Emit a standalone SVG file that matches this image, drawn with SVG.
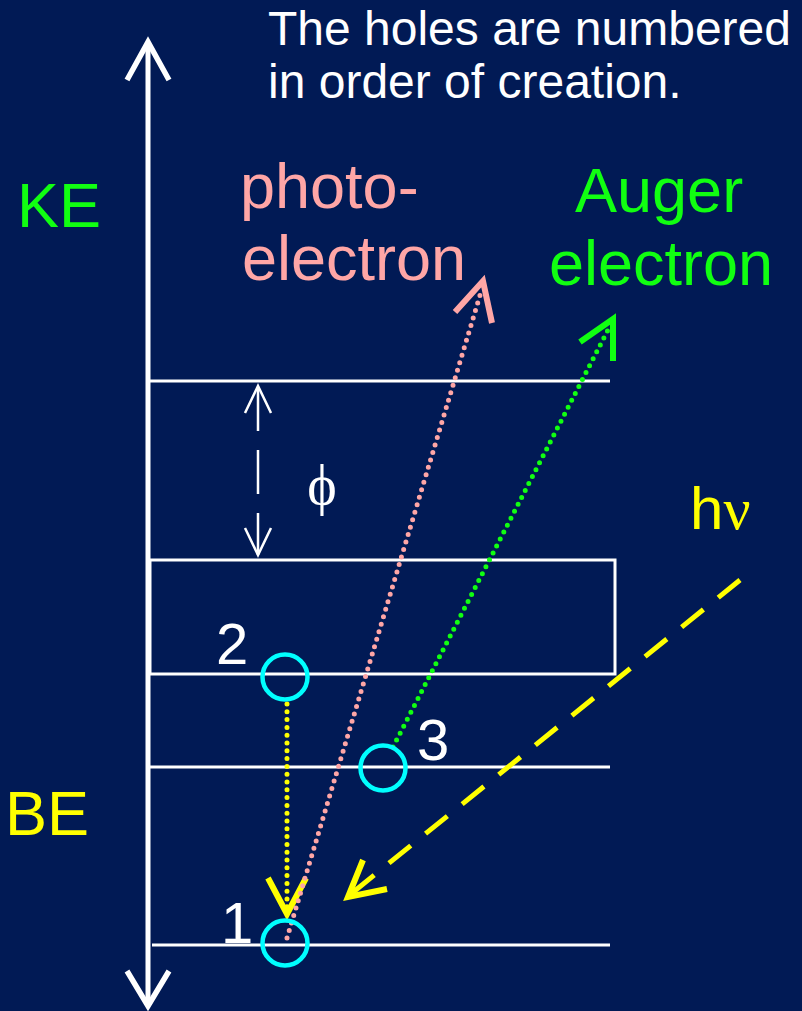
<svg xmlns="http://www.w3.org/2000/svg" width="802" height="1011" viewBox="0 0 802 1011">
  <style>
    .lvl { stroke: #ffffff; stroke-width: 3; fill: none; }
    .hole { stroke: #00ffff; stroke-width: 4.5; fill: none; }
    .num { font-family: "Liberation Sans", Arial, sans-serif; font-size: 58px; fill: #ffffff; }
    .big { font-family: "Liberation Sans", Arial, sans-serif; font-size: 63px; }
    .dots { fill: none; stroke-width: 5; stroke-linecap: round; stroke-dasharray: 0 7.8; }
    .head { fill: none; stroke-width: 6; stroke-linejoin: miter; stroke-linecap: butt; }
  </style>
  <rect x="0" y="0" width="802" height="1011" fill="#011A55"/>

  <g id="caption">
    <text x="268" y="45" font-family="Liberation Sans, Arial, sans-serif" font-size="48" fill="#ffffff">The holes are numbered</text>
    <text x="268" y="98" font-family="Liberation Sans, Arial, sans-serif" font-size="48" fill="#ffffff">in order of creation.</text>
  </g>

  <g id="axis">
    <line x1="148" y1="42" x2="148" y2="1005" stroke="#ffffff" stroke-width="5"/>
    <path d="M127,80 L148,42 L169,80" fill="none" stroke="#ffffff" stroke-width="5.5"/>
    <path d="M127,971 L148,1006 L169,971" fill="none" stroke="#ffffff" stroke-width="5.5"/>
    <text x="17" y="227" class="big" fill="#11FF11">KE</text>
    <text x="5" y="835" class="big" fill="#FFFF00" font-size="60">BE</text>
  </g>

  <g id="levels">
    <line class="lvl" x1="150" y1="381" x2="610" y2="381"/>
    <rect class="lvl" x="150" y="560" width="465" height="114"/>
    <line class="lvl" x1="150" y1="767" x2="610" y2="767"/>
    <line class="lvl" x1="152" y1="945" x2="610" y2="945"/>
  </g>

  <g id="work-function">
    <line x1="258" y1="387" x2="258" y2="555" stroke="#ffffff" stroke-width="2.5" stroke-dasharray="44 19"/>
    <path d="M245,413 L258,386 L271,413" fill="none" stroke="#ffffff" stroke-width="2.5"/>
    <path d="M245,528 L258,555 L271,528" fill="none" stroke="#ffffff" stroke-width="2.5"/>
    <text x="322" y="504" text-anchor="middle" font-family="Liberation Serif, Times New Roman, serif" font-size="56" fill="#ffffff">ϕ</text>
  </g>

  <g id="connectors">
    <line class="dots" x1="287" y1="704" x2="287" y2="912" stroke="#FFFF00"/>
    <path class="head" d="M268,878 L287,914 L306,878" stroke="#FFFF00"/>
    <line class="dots" x1="287" y1="938" x2="481" y2="292" stroke="#FFA6A6"/>
    <path class="head" d="M455,312 L483,281 L492,323" stroke="#FFA6A6"/>
    <line class="dots" x1="393" y1="747" x2="609" y2="328" stroke="#11FF11"/>
    <path class="head" d="M580,342 L613,319 L613,361" stroke="#11FF11"/>
    <line x1="740" y1="580" x2="352" y2="893" stroke="#FFFF00" stroke-width="5" stroke-dasharray="28 19"/>
    <path class="head" d="M363,860 L348,897 L387,889" stroke="#FFFF00"/>
  </g>

  <g id="hole-1">
    <circle class="hole" cx="285" cy="943" r="22.5"/>
    <text class="num" x="221" y="943">1</text>
  </g>
  <g id="hole-2">
    <circle class="hole" cx="285" cy="677" r="22.5"/>
    <text class="num" x="216" y="664">2</text>
  </g>
  <g id="hole-3">
    <circle class="hole" cx="383" cy="768" r="22.5"/>
    <text class="num" x="417" y="760">3</text>
  </g>

  <g id="photoelectron-label">
    <text x="240" y="208" class="big" fill="#FFA6A6">photo-</text>
    <text x="242" y="280" class="big" fill="#FFA6A6">electron</text>
  </g>
  <g id="auger-label">
    <text x="575" y="212" class="big" fill="#11FF11">Auger</text>
    <text x="549" y="285" class="big" fill="#11FF11">electron</text>
  </g>
  <g id="photon-label">
    <text x="690" y="529" font-family="Liberation Sans, Arial, sans-serif" font-size="60" fill="#FFFF00">h<tspan font-family="Liberation Serif, Times New Roman, serif">ν</tspan></text>
  </g>
</svg>
